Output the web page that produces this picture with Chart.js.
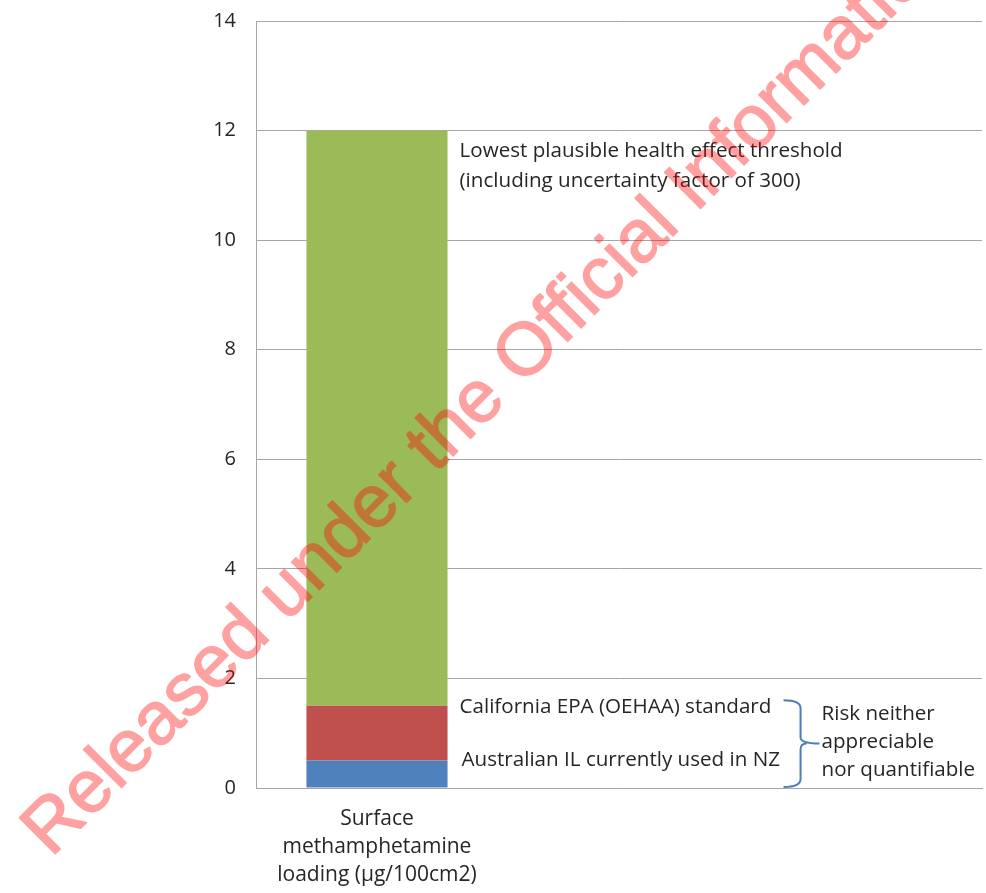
<!DOCTYPE html>
<html>
<head>
<meta charset="utf-8">
<script src="https://cdn.jsdelivr.net/npm/chart.js@4.4.1/dist/chart.umd.min.js"></script>
<style>
html,body{margin:0;padding:0;background:#fff;}
#wrap{width:986px;height:893px;position:relative;}
</style>
</head>
<body>
<div id="wrap"><canvas id="c" width="986" height="893"></canvas></div>
<script>
const categories = [["Surface", "methamphetamine", "loading (\u00b5g/100cm2)"], "", ""];
const australianIL = [0.5, null, null];
const californiaEPA = [1.0, null, null];
const healthThreshold = [10.5, null, null];
const yTicks = [0, 2, 4, 6, 8, 10, 12, 14];
const seriesNames = ["Australian IL currently used in NZ", "California EPA (OEHAA) standard", "Lowest plausible health effect threshold"];
const watermarkText = "Released under the Official Information Act";

const FONT = "'Open Sans', sans-serif";
const TXT = "#262626";

const annotationPlugin = {
  id: 'annot',
  afterDatasetsDraw(chart) {
    const ctx = chart.ctx;
    const y = chart.scales.y;
    const bar = chart.getDatasetMeta(0).data[0];
    const right = bar.x + bar.width / 2;
    const tx = right + 12;
    ctx.save();
    ctx.fillStyle = TXT;
    ctx.font = "20.6px " + FONT;
    ctx.textAlign = "left";
    ctx.textBaseline = "middle";
    const top12 = y.getPixelForValue(12);
    ctx.fillText("Lowest plausible health effect threshold", tx, top12 + 21);
    ctx.fillText("(including uncertainty factor of 300)", tx, top12 + 51);
    ctx.fillText(seriesNames[1], tx, y.getPixelForValue(1.5) + 1);
    ctx.fillText(seriesNames[0], tx + 2, y.getPixelForValue(0.5));
    // brace
    const bTop = y.getPixelForValue(1.6);
    const bBot = y.getPixelForValue(0.02);
    const bMid = (bTop + bBot) / 2;
    const x0 = right + 336, x1 = right + 353, x2 = right + 372;
    ctx.strokeStyle = "#4a7ebb";
    ctx.lineWidth = 2;
    ctx.beginPath();
    ctx.moveTo(x0, bTop);
    ctx.quadraticCurveTo(x1, bTop, x1, bTop + 8);
    ctx.lineTo(x1, bMid - 6);
    ctx.quadraticCurveTo(x1, bMid, x2, bMid);
    ctx.moveTo(x1 + 6, bMid);
    ctx.quadraticCurveTo(x1, bMid, x1, bMid + 6);
    ctx.lineTo(x1, bBot - 8);
    ctx.quadraticCurveTo(x1, bBot, x0, bBot);
    ctx.stroke();
    ctx.fillStyle = TXT;
    ctx.fillText("Risk neither", x2 + 2, bMid - 29);
    ctx.fillText("appreciable", x2 + 2, bMid - 1);
    ctx.fillText("nor quantifiable", x2 + 2, bMid + 27);
    ctx.restore();
  },
  afterDraw(chart) {
    const ctx = chart.ctx;
    const off = document.createElement('canvas');
    off.width = chart.width; off.height = chart.height;
    const o = off.getContext('2d');
    o.translate(51, 858);
    o.rotate(-Math.PI / 4);
    o.font = "74px 'Liberation Sans', Arial, sans-serif";
    o.fillStyle = "#ff0000";
    o.strokeStyle = "#ff0000";
    o.lineWidth = 1.6;
    o.lineJoin = "round";
    o.textAlign = "left";
    o.textBaseline = "alphabetic";
    o.fillText(watermarkText, 0, 0);
    o.strokeText(watermarkText, 0, 0);
    ctx.save();
    ctx.globalAlpha = 0.37;
    ctx.drawImage(off, 0, 0);
    ctx.restore();
  }
};

new Chart(document.getElementById('c'), {
  type: 'bar',
  data: {
    labels: categories,
    datasets: [
      { label: seriesNames[0], data: australianIL, backgroundColor: '#4F81BD' },
      { label: seriesNames[1], data: californiaEPA, backgroundColor: '#C0504D' },
      { label: seriesNames[2], data: healthThreshold, backgroundColor: '#9BBB59' }
    ]
  },
  options: {
    responsive: false,
    animation: false,
    layout: { padding: { left: 0, right: 4, top: 21, bottom: 0 } },
    datasets: { bar: { categoryPercentage: 1, barPercentage: 0.583, borderWidth: 0 } },
    plugins: { legend: { display: false }, tooltip: { enabled: false } },
    scales: {
      x: {
        stacked: true,
        grid: { display: false, drawTicks: false },
        border: { display: true, color: '#a6a6a6', width: 1 },
        ticks: { color: TXT, font: { family: FONT, size: 21, lineHeight: 1.33 }, padding: 17, maxRotation: 0, autoSkip: false },
        afterFit(s) { s.height = 105; s.paddingLeft = 0; s.paddingRight = 0; }
      },
      y: {
        stacked: true,
        min: 0, max: 14,
        afterBuildTicks(s) { s.ticks = yTicks.map(v => ({ value: v })); },
        grid: { color: '#a6a6a6', lineWidth: 1, drawTicks: false },
        border: { display: true, color: '#a6a6a6', width: 1 },
        ticks: { color: TXT, font: { family: FONT, size: 20 }, padding: 20 },
        afterFit(s) { s.width = 256; s.paddingTop = 0; s.paddingBottom = 0; }
      }
    }
  },
  plugins: [annotationPlugin]
});
</script>
</body>
</html>
